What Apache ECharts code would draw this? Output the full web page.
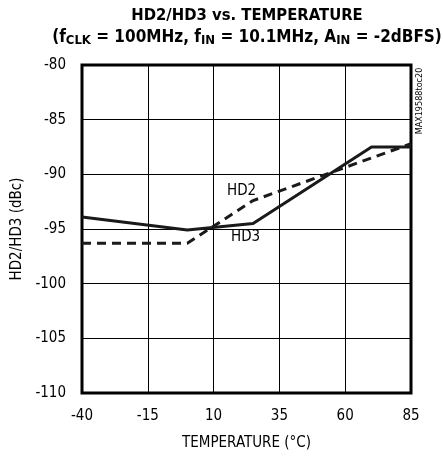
<!DOCTYPE html>
<html>
<head>
<meta charset="utf-8">
<script src="https://cdn.jsdelivr.net/npm/echarts@6/dist/echarts.min.js"></script>
<style>
  html, body { margin: 0; padding: 0; background: #fff; }
  #chart { width: 443px; height: 457px; }
</style>
</head>
<body>
<div id="chart"></div>
<script>
(function() {
    var FONT = '"Liberation Sans Narrow", "DejaVu Sans Condensed", "Roboto", sans-serif';
    // data
    var hd2Temp = [-40, 0, 25, 70, 85];
    var hd2Val = [-96.3, -96.3, -92.4, -88.5, -87.2];
    var hd3Temp = [-40, 0, 25, 70, 85];
    var hd3Val = [-93.9, -95.1, -94.5, -87.5, -87.5];
    var xTicks = [-40, -15, 10, 35, 60, 85];
    var yTicks = [-110, -105, -100, -95, -90, -85, -80];

    function pairs(xs, ys) {
        var d = [];
        for (var i = 0; i < xs.length; i++) d.push([xs[i], ys[i]]);
        return d;
    }

    var myChart = echarts.init(document.getElementById('chart'));
    var option = {
        animation: false,
        textStyle: { fontFamily: FONT },
        title: {
            text: 'HD2/HD3 vs. TEMPERATURE',
            subtext: '{p|(f}{s|CLK}{p| = 100MHz, f}{s|IN}{p| = 10.1MHz, A}{s|IN}{p| = -2dBFS)}',
            left: 242,
            top: 2,
            textAlign: 'center',
            itemGap: 4,
            textStyle: { fontFamily: FONT, fontWeight: 'bold', fontSize: 16.5, color: '#000' },
            subtextStyle: {
                fontFamily: FONT,
                rich: {
                    p: { fontFamily: FONT, fontWeight: 'bold', fontSize: 17, color: '#000' },
                    s: { fontFamily: FONT, fontWeight: 'bold', fontSize: 13, color: '#000', verticalAlign: 'bottom', padding: [6, 0, 0, 0] }
                }
            }
        },
        grid: {
            left: 82, right: 32, top: 65, bottom: 64,
            show: true, borderColor: '#000', borderWidth: 3, backgroundColor: 'transparent'
        },
        xAxis: {
            type: 'value',
            min: xTicks[0],
            max: xTicks[xTicks.length - 1],
            interval: 25,
            name: 'TEMPERATURE (°C)',
            nameLocation: 'middle',
            nameGap: 43,
            nameTextStyle: { fontFamily: FONT, fontSize: 15, color: '#000' },
            axisLine: { show: false },
            axisTick: { show: false },
            axisLabel: { fontFamily: FONT, fontSize: 15, color: '#000', margin: 16 },
            splitLine: { show: true, lineStyle: { color: '#000', width: 1 } }
        },
        yAxis: {
            type: 'value',
            min: yTicks[0],
            max: yTicks[yTicks.length - 1],
            interval: 5,
            name: 'HD2/HD3 (dBc)',
            nameLocation: 'middle',
            nameGap: 52,
            nameTextStyle: { fontFamily: FONT, fontSize: 15, color: '#000' },
            axisLine: { show: false },
            axisTick: { show: false },
            axisLabel: { fontFamily: FONT, fontSize: 15, color: '#000', margin: 16 },
            splitLine: { show: true, lineStyle: { color: '#000', width: 1 } }
        },
        series: [{
            name: 'HD3',
            type: 'line',
            showSymbol: false,
            data: pairs(hd3Temp, hd3Val),
            lineStyle: { color: '#1a1a1a', width: 3 }
        }, {
            name: 'HD2',
            type: 'line',
            showSymbol: false,
            data: pairs(hd2Temp, hd2Val),
            lineStyle: { color: '#1a1a1a', width: 3, type: [9, 6] }
        }],
        graphic: [{
            type: 'text', left: 227, top: 184,
            style: { text: 'HD2', font: '15px ' + FONT, fill: '#000' }
        }, {
            type: 'text', left: 231, top: 230,
            style: { text: 'HD3', font: '15px ' + FONT, fill: '#000' }
        }, {
            type: 'text', x: 420, y: 101, rotation: Math.PI / 2,
            style: { text: 'MAX19588toc20', font: '9px ' + FONT, fill: '#000', align: 'center', verticalAlign: 'middle' }
        }]
    };
    myChart.setOption(option);
})()
</script>
</body>
</html>
